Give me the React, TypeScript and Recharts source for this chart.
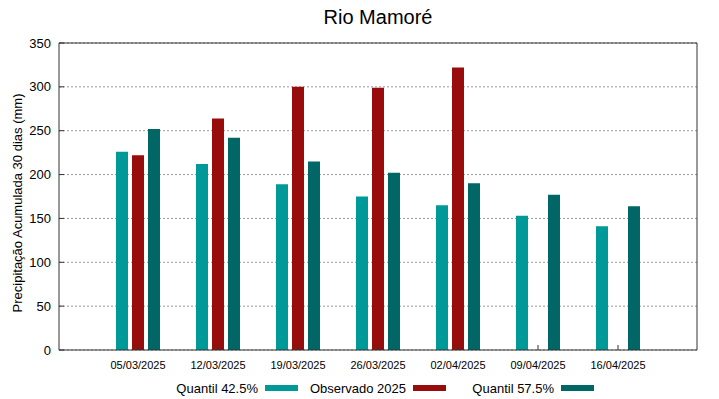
import { BarChart, Bar, XAxis, YAxis, CartesianGrid } from "recharts";

const dates = ["05/03/2025", "12/03/2025", "19/03/2025", "26/03/2025", "02/04/2025", "09/04/2025", "16/04/2025"];
const quantil425 = [226, 212, 189, 175, 165, 153, 141];
const observado2025: (number | null)[] = [222, 264, 300, 299, 322, null, null];
const quantil575 = [252, 242, 215, 202, 190, 177, 164];
const yTicks = [0, 50, 100, 150, 200, 250, 300, 350];

const seriesKeys = ["q425", "obs", "q575"];
const seriesNames = ["Quantil 42.5%", "Observado 2025", "Quantil 57.5%"];
const seriesColors = ["#009999", "#990c0c", "#006666"];

const data = dates.map((d, i) => ({
  date: d,
  q425: quantil425[i],
  obs: observado2025[i],
  q575: quantil575[i],
}));

const font = "'Liberation Sans', Arial, sans-serif";
const frame = "#333";

export default function App() {
  return (
    <div style={{ position: "absolute", left: 0, top: 0, width: 719, height: 399, background: "#fff", fontFamily: font }}>
      <div style={{ position: "absolute", left: 0, width: 756, top: 6, lineHeight: "22px", fontSize: 20, textAlign: "center", color: "#000" }}>
        Rio Mamoré
      </div>
      <div
        style={{
          position: "absolute",
          left: 17,
          top: 203,
          transform: "translate(-50%, -50%) rotate(-90deg)",
          whiteSpace: "nowrap",
          fontSize: 13,
          color: "#000",
        }}
      >
        Precipitação Acumulada 30 dias (mm)
      </div>
      <BarChart
        width={719}
        height={399}
        data={data}
        margin={{ top: 42, right: 21, left: 0, bottom: 0 }}
        barSize={12}
        barGap={4}
        style={{ position: "absolute", left: 0, top: 0 }}
      >
        <CartesianGrid vertical={false} stroke="#999" strokeDasharray="2 2" yAxisId="left" xAxisId="bottom" />
        <XAxis
          dataKey="date"
          xAxisId="bottom"
          height={49}
          padding={{ left: 39, right: 39 }}
          tickSize={-5}
          tickMargin={16}
          stroke={frame}
          tick={{ fontSize: 11, fill: "#000", fontFamily: font }}
          interval={0}
        />
        <XAxis
          dataKey="date"
          xAxisId="top"
          orientation="top"
          height={1}
          padding={{ left: 39, right: 39 }}
          tickSize={-5}
          tick={false}
          stroke={frame}
          interval={0}
        />
        <YAxis
          yAxisId="left"
          width={59}
          domain={[0, 350]}
          ticks={yTicks}
          tickSize={-5}
          tickMargin={13}
          stroke={frame}
          tick={{ fontSize: 13, fill: "#000", fontFamily: font }}
        />
        <YAxis
          yAxisId="right"
          orientation="right"
          width={1}
          domain={[0, 350]}
          ticks={yTicks}
          tickSize={-5}
          tick={false}
          stroke={frame}
        />
        {seriesKeys.map((k, i) => (
          <Bar
            key={k}
            dataKey={k}
            name={seriesNames[i]}
            fill={seriesColors[i]}
            xAxisId="bottom"
            yAxisId="left"
            isAnimationActive={false}
          />
        ))}
      </BarChart>
      <div style={{ position: "absolute", left: 150, top: 379, display: "flex", fontSize: 13, color: "#000" }}>
        {seriesNames.map((n, i) => (
          <div key={n} style={{ width: 148, display: "flex", justifyContent: "flex-end", alignItems: "center", height: 18 }}>
            <span>{n}</span>
            <span style={{ display: "inline-block", width: 33, height: 6, marginLeft: 7, background: seriesColors[i] }} />
          </div>
        ))}
      </div>
    </div>
  );
}
